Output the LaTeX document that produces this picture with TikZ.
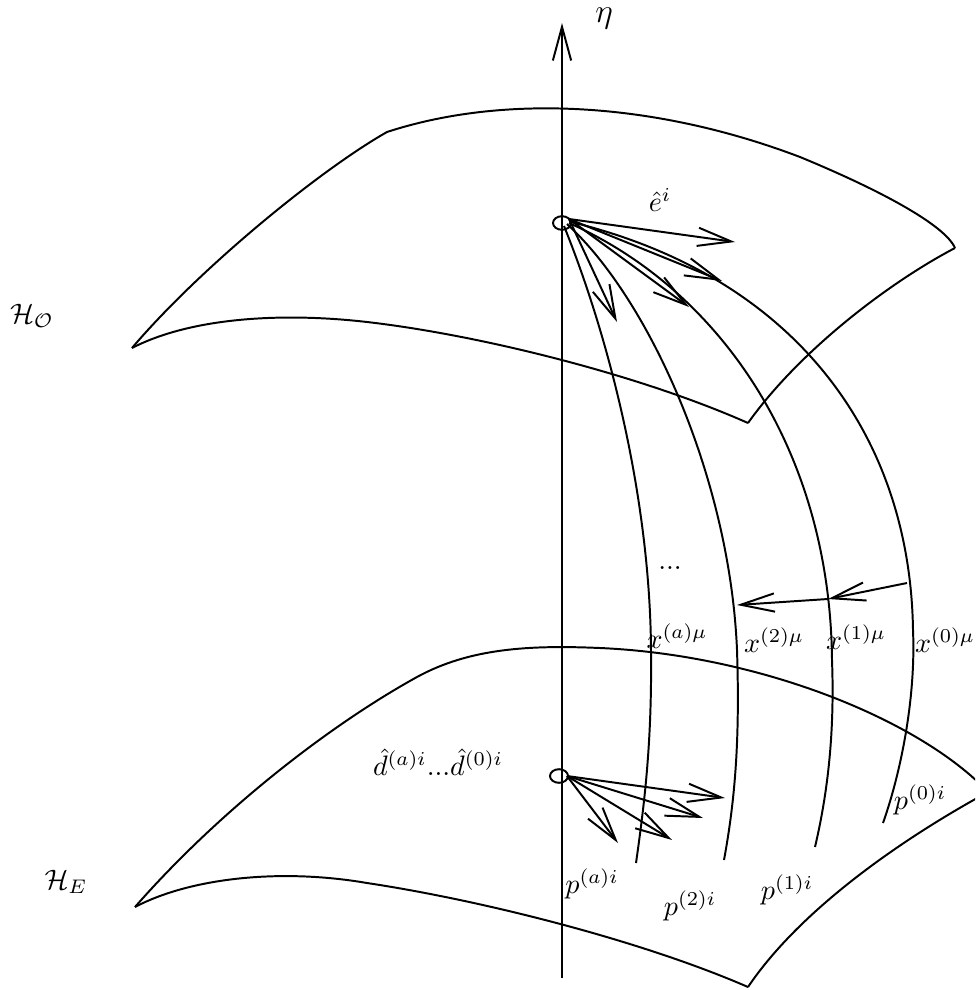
\documentclass[tikz,border=0pt]{standalone}
\usetikzlibrary{arrows.meta,shapes.geometric}
\begin{document}
\begin{tikzpicture}[x=0.0125cm,y=-0.0125cm,line width=0.7pt,line join=round,
  barb/.style={-{Straight Barb[length=12pt,width=6.5pt]}},
  ring/.style={draw,ellipse,inner sep=0pt,minimum width=0.225cm,minimum height=0.17cm},
  lbl/.style={inner sep=0pt}]
\clip (0,0) rectangle (975,990);

% ---- surface H_O ----
\coordinate (uL) at (132,348);
\coordinate (uK) at (387,132);
\coordinate (uR) at (955,248);
\coordinate (uB) at (748,423);
\draw (uL) .. controls (200,268) and (320,170) .. (uK)
           .. controls (500,95) and (650,100) .. (800,157)
           .. controls (880,190) and (945,225) .. (uR);
\draw (uR) .. controls (890,282) and (800,350) .. (uB);
\draw (uL) .. controls (190,318) and (280,312) .. (367,322)
           .. controls (480,335) and (640,375) .. (uB);

% ---- surface H_E ----
\coordinate (lL) at (135,907);
\coordinate (lR) at (988,792);
\coordinate (lB) at (748,987);
\draw (lL) .. controls (220,810) and (330,725) .. (417,677)
           .. controls (470,648) and (530,645) .. (600,648)
           .. controls (760,655) and (920,720) .. (lR);
\draw (lR) .. controls (900,840) and (800,910) .. (lB);
\draw (lL) .. controls (190,878) and (280,868) .. (367,883)
           .. controls (480,900) and (640,940) .. (lB);

% ---- time axis ----
\coordinate (axB) at (562,978);
\coordinate (axT) at (562,23);
\draw[barb] (axB) -- (axT);
\node[lbl] (eta) at (604,19) {\large$\eta$};

% ---- observer points ----
\node[ring] (O) at (562,223) {};
\node[ring] (E) at (559,776) {};
\coordinate (o) at (569,219);
\coordinate (e) at (567,776);

% ---- world lines ----
\draw (564,226) .. controls (610,340) and (650,500) .. (651,650)
                .. controls (652,740) and (645,800) .. (636,863);
\draw (567,224) .. controls (650,300) and (730,480) .. (737,650)
                .. controls (740,740) and (735,800) .. (724,860);
\draw (569,223) .. controls (720,290) and (830,450) .. (832,660)
                .. controls (835,740) and (826,800) .. (815,847);
\draw (571,222) .. controls (790,275) and (910,430) .. (913,630)
                .. controls (916,700) and (900,775) .. (883,823);

% ---- tetrad arrows at observer ----
\coordinate (t1) at (735,242);
\coordinate (t2) at (722,281);
\coordinate (t3) at (689,307);
\coordinate (t4) at (617,322);
\foreach \t in {t1,t2,t3,t4} \draw[barb] (o) -- (\t);
\node[lbl] (ehat) at (660,200) {$\hat e^{i}$};

% ---- arrows at emitter ----
\coordinate (s1) at (725,798);
\coordinate (s2) at (703,818);
\coordinate (s3) at (672,840);
\coordinate (s4) at (618,843);
\foreach \t in {s1,s2,s3,s4} \draw[barb] (e) -- (\t);

% ---- connecting arrows between world lines ----
\coordinate (c0) at (907,583);
\coordinate (c1) at (828,599);
\coordinate (c2) at (737,605);
\draw[barb] (c0) -- (c1);
\draw[barb] (c1) -- (c2);

% ---- labels ----
\node[lbl] (HO) at (32,316) {$\mathcal{H}_{\mathcal{O}}$};
\node[lbl] (HE) at (66,882) {$\mathcal{H}_{E}$};
\node[lbl] (dots) at (670,568) {$...$};
\node[lbl] (xa) at (677,636) {$x^{(a)\mu}$};
\node[lbl] (x2) at (774,640) {$x^{(2)\mu}$};
\node[lbl] (x1) at (856,637) {$x^{(1)\mu}$};
\node[lbl] (x0) at (945,640) {$x^{(0)\mu}$};
\node[lbl] (dh) at (438,762) {$\hat d^{(a)i}...\hat d^{(0)i}$};
\node[lbl] (pa) at (592,884) {$p^{(a)i}$};
\node[lbl] (p2) at (690,906) {$p^{(2)i}$};
\node[lbl] (p1) at (787,890) {$p^{(1)i}$};
\node[lbl] (p0) at (920,800) {$p^{(0)i}$};
\end{tikzpicture}
\end{document}
